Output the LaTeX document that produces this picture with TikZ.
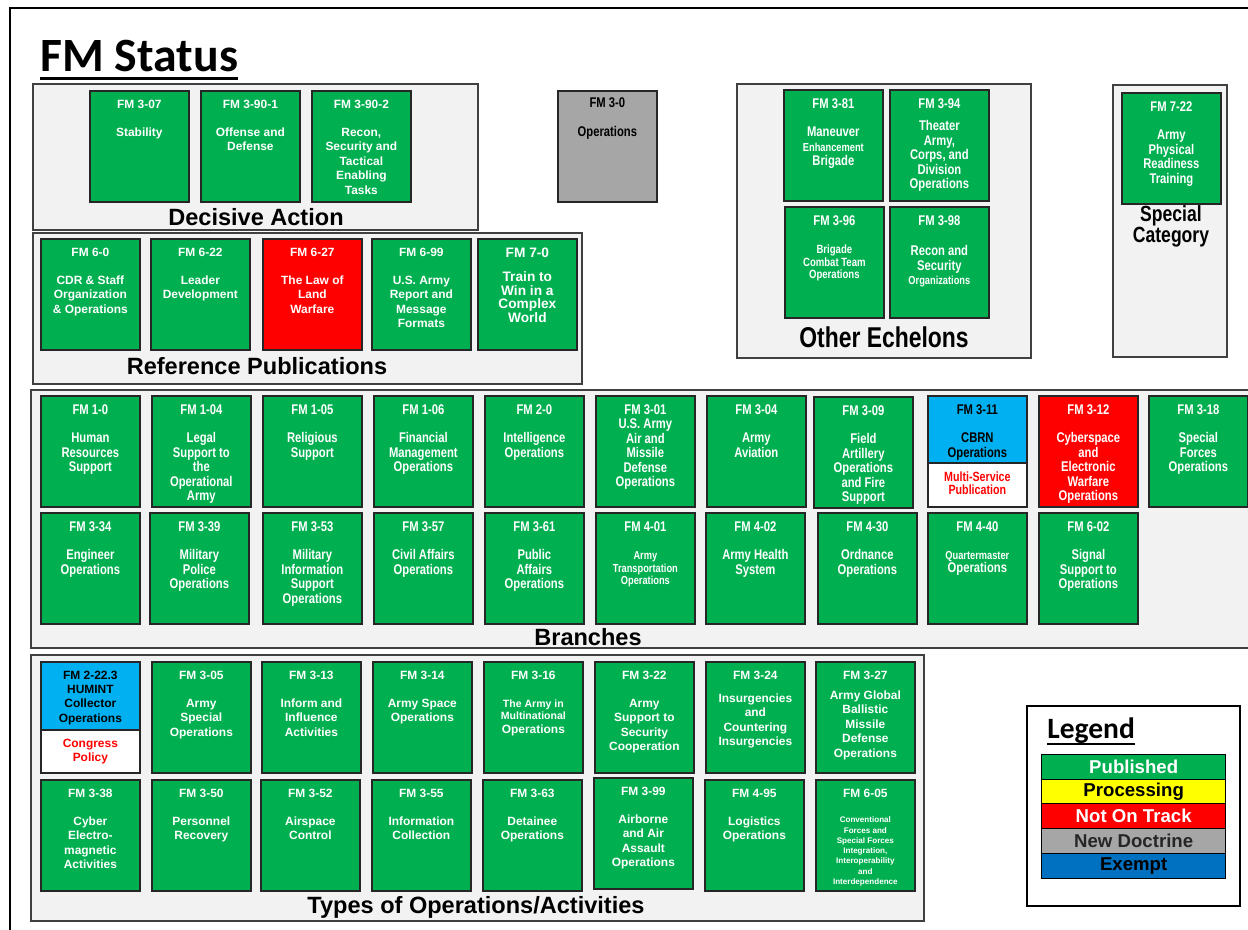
\documentclass[tikz,border=0pt]{standalone}
\usepackage{fontspec}
\setmainfont{Liberation Sans}
\newfontfamily\narrowfont[FakeStretch=0.8]{Liberation Sans}
\newfontfamily\calibrifont{Carlito}
\usepackage{xcolor}
\definecolor{fmgreen}{HTML}{00B050}
\definecolor{fmred}{HTML}{FF0000}
\definecolor{fmblue}{HTML}{00B0F0}
\definecolor{fmexempt}{HTML}{0070C0}
\definecolor{fmnew}{HTML}{A6A6A6}
\definecolor{fmyellow}{HTML}{FFFF00}
\definecolor{fmpanel}{HTML}{F2F2F2}
\newcommand{\fmsmall}[3]{{\fontsize{#1}{#2}\selectfont\begin{tabular}[t]{@{}c@{}}#3\end{tabular}}}

\begin{document}
\begin{tikzpicture}[x=0.02cm,y=-0.02cm,
    panel/.style={draw=black!75,line width=0.9pt,fill=fmpanel},
    fmbox/.style={draw=black!85,line width=1pt,anchor=north west,minimum width=1.98cm,minimum height=2.22cm,inner sep=0pt},
    fmtext/.style={anchor=north,yshift=-5.3pt,align=center,inner sep=0pt,text=white,font=\fontsize{6.8}{8.2}\selectfont\bfseries},
    fmnarrow/.style={font=\narrowfont\fontsize{8}{8.2}\selectfont\bfseries},
    paneltitle/.style={inner sep=0pt,font=\fontsize{13.4}{15}\selectfont\bfseries},
    legendbar/.style={draw=black,line width=0.8pt,anchor=north west,minimum width=3.68cm,minimum height=0.49cm,inner sep=0pt,font=\fontsize{10.6}{12}\selectfont\bfseries}]
    \useasboundingbox (0,0) rectangle (1248,930);
    \draw[line width=1.2pt] (10,8) rectangle (1300,980);

    % title
    \node[anchor=base west,inner sep=0pt,font=\calibrifont\fontsize{27.2}{30}\selectfont\bfseries] (title) at (40,71) {FM Status};
    \draw[line width=1.7pt] ([yshift=-4pt]title.base west) -- ([yshift=-4pt]title.base east);

    % panels
    \draw[panel] (33,84) rectangle (478,230);
    \draw[panel] (33,233) rectangle (582,384);
    \draw[panel] (737,84) rectangle (1031,358);
    \draw[panel] (1113,85) rectangle (1227,357);
    \draw[panel] (31,390) rectangle (1300,648);
    \draw[panel] (31,655) rectangle (924,921);

    % decisive action
    \node[fmbox,fill=fmgreen,label={[fmtext]north:{FM 3-07\\[8pt]Stability}}] (fm307) at (89,90) {};
    \node[fmbox,fill=fmgreen,label={[fmtext]north:{FM 3-90-1\\[8pt]Offense and\\Defense}}] (fm3901) at (200,90) {};
    \node[fmbox,fill=fmgreen,label={[fmtext]north:{FM 3-90-2\\[8pt]Recon,\\Security and\\Tactical\\Enabling\\Tasks}}] (fm3902) at (311,90) {};
    \node[paneltitle] (decisive) at (256,217) {Decisive Action};

    % new doctrine
    \node[fmbox,fill=fmnew,label={[fmtext,fmnarrow,text=black,yshift=1pt]north:{FM 3-0\\[8pt]Operations}}] (fm30) at (557,90) {};

    % other echelons
    \node[fmbox,fill=fmgreen,label={[fmtext,fmnarrow]north:{FM 3-81\\[8pt]Maneuver\\{\fontsize{6.6}{7}\selectfont Enhancement}\\Brigade}}] (fm381) at (783,89) {};
    \node[fmbox,fill=fmgreen,label={[fmtext,fmnarrow]north:{FM 3-94\\[4.5pt]Theater\\Army,\\Corps, and\\Division\\Operations}}] (fm394) at (889,89) {};
    \node[fmbox,fill=fmgreen,label={[fmtext,fmnarrow]north:{FM 3-96\\[8pt]\fmsmall{6.8}{7.1}{Brigade\\Combat Team\\Operations}}}] (fm396) at (784,206) {};
    \node[fmbox,fill=fmgreen,label={[fmtext,fmnarrow]north:{FM 3-98\\[9pt]Recon and\\Security\\{\fontsize{6.6}{7}\selectfont Organizations}}}] (fm398) at (889,206) {};
    \node[paneltitle,font=\narrowfont\fontsize{16.3}{18}\selectfont\bfseries] (echelons) at (884,337) {Other Echelons};

    % special category
    \node[fmbox,fill=fmgreen,label={[fmtext,fmnarrow]north:{FM 7-22\\[8pt]Army\\Physical\\Readiness\\Training}}] (fm722) at (1121,92) {};
    \node[align=center,inner sep=0pt,font=\narrowfont\fontsize{12.5}{12}\selectfont\bfseries] (special) at (1171,226) {Special\\Category};

    % reference publications
    \node[fmbox,fill=fmgreen,label={[fmtext]north:{FM 6-0\\[8pt]CDR \& Staff\\Organization\\\& Operations}}] (fm60) at (40,238) {};
    \node[fmbox,fill=fmgreen,label={[fmtext]north:{FM 6-22\\[8pt]Leader\\Development}}] (fm622) at (150,238) {};
    \node[fmbox,fill=fmred,label={[fmtext]north:{FM 6-27\\[8pt]The Law of\\Land\\Warfare}}] (fm627) at (262,238) {};
    \node[fmbox,fill=fmgreen,label={[fmtext]north:{FM 6-99\\[8pt]U.S. Army\\Report and\\Message\\Formats}}] (fm699) at (371,238) {};
    \node[fmbox,fill=fmgreen,label={[fmtext,font=\fontsize{7.8}{7.8}\selectfont\bfseries]north:{FM 7-0\\[6pt]Train to\\Win in a\\Complex\\World}}] (fm70) at (477,238) {};
    \node[paneltitle] (refpubs) at (257,366) {Reference Publications};

    % branches, first row
    \node[fmbox,fill=fmgreen,label={[fmtext,fmnarrow]north:{FM 1-0\\[8pt]Human\\Resources\\Support}}] (fm10) at (40,395) {};
    \node[fmbox,fill=fmgreen,label={[fmtext,fmnarrow]north:{FM 1-04\\[8pt]Legal\\Support to\\the\\Operational\\Army}}] (fm104) at (151,395) {};
    \node[fmbox,fill=fmgreen,label={[fmtext,fmnarrow]north:{FM 1-05\\[8pt]Religious\\Support}}] (fm105) at (262,395) {};
    \node[fmbox,fill=fmgreen,label={[fmtext,fmnarrow]north:{FM 1-06\\[8pt]Financial\\Management\\Operations}}] (fm106) at (373,395) {};
    \node[fmbox,fill=fmgreen,label={[fmtext,fmnarrow]north:{FM 2-0\\[8pt]Intelligence\\Operations}}] (fm20) at (484,395) {};
    \node[fmbox,fill=fmgreen,label={[fmtext,fmnarrow]north:{FM 3-01\\U.S. Army\\Air and\\Missile\\Defense\\Operations}}] (fm301) at (595,395) {};
    \node[fmbox,fill=fmgreen,label={[fmtext,fmnarrow]north:{FM 3-04\\[8pt]Army\\Aviation}}] (fm304) at (706,395) {};
    \node[fmbox,fill=fmgreen,label={[fmtext,fmnarrow]north:{FM 3-09\\[8pt]Field\\Artillery\\Operations\\and Fire\\Support}}] (fm309) at (813,396) {};
    \node[fmbox,fill=fmblue,minimum height=1.34cm,label={[fmtext,fmnarrow,text=black]north:{FM 3-11\\[8pt]CBRN\\Operations}}] (fm311) at (927,395) {};
    \node[fmbox,fill=white,minimum height=0.88cm,text=fmred,align=center,font=\narrowfont\fontsize{7.6}{7.4}\selectfont\bfseries] (fm311note) at (927,462) {\raisebox{1.5pt}{Multi-Service}\\\raisebox{1.5pt}{Publication}};
    \node[fmbox,fill=fmred,label={[fmtext,fmnarrow]north:{FM 3-12\\[8pt]Cyberspace\\and\\Electronic\\Warfare\\Operations}}] (fm312) at (1038,395) {};
    \node[fmbox,fill=fmgreen,label={[fmtext,fmnarrow]north:{FM 3-18\\[8pt]Special\\Forces\\Operations}}] (fm318) at (1148,395) {};

    % branches, second row
    \node[fmbox,fill=fmgreen,label={[fmtext,fmnarrow]north:{FM 3-34\\[8pt]Engineer\\Operations}}] (fm334) at (40,512) {};
    \node[fmbox,fill=fmgreen,label={[fmtext,fmnarrow]north:{FM 3-39\\[8pt]Military\\Police\\Operations}}] (fm339) at (149,512) {};
    \node[fmbox,fill=fmgreen,label={[fmtext,fmnarrow]north:{FM 3-53\\[8pt]Military\\Information\\Support\\Operations}}] (fm353) at (262,512) {};
    \node[fmbox,fill=fmgreen,label={[fmtext,fmnarrow]north:{FM 3-57\\[8pt]Civil Affairs\\Operations}}] (fm357) at (373,512) {};
    \node[fmbox,fill=fmgreen,label={[fmtext,fmnarrow]north:{FM 3-61\\[8pt]Public\\Affairs\\Operations}}] (fm361) at (484,512) {};
    \node[fmbox,fill=fmgreen,label={[fmtext,fmnarrow]north:{FM 4-01\\[8pt]\fmsmall{6.6}{7.1}{Army\\Transportation\\Operations}}}] (fm401) at (595,512) {};
    \node[fmbox,fill=fmgreen,label={[fmtext,fmnarrow]north:{FM 4-02\\[8pt]Army Health\\System}}] (fm402) at (705,512) {};
    \node[fmbox,fill=fmgreen,label={[fmtext,fmnarrow]north:{FM 4-30\\[8pt]Ordnance\\Operations}}] (fm430) at (817,512) {};
    \node[fmbox,fill=fmgreen,label={[fmtext,fmnarrow]north:{FM 4-40\\[8pt]{\fontsize{6.6}{7}\selectfont Quartermaster}\\[-1pt]Operations}}] (fm440) at (927,512) {};
    \node[fmbox,fill=fmgreen,label={[fmtext,fmnarrow]north:{FM 6-02\\[8pt]Signal\\Support to\\Operations}}] (fm602) at (1038,512) {};
    \node[paneltitle] (branches) at (588,637) {Branches};

    % types of operations, first row
    \node[fmbox,fill=fmblue,minimum height=1.36cm,label={[fmtext,text=black]north:{FM 2-22.3\\HUMINT\\Collector\\Operations}}] (fm2223) at (40,661) {};
    \node[fmbox,fill=white,minimum height=0.86cm,text=fmred,align=center,font=\fontsize{6.8}{8.2}\selectfont\bfseries] (fm2223note) at (40,729) {Congress\\Policy};
    \node[fmbox,fill=fmgreen,label={[fmtext]north:{FM 3-05\\[8pt]Army\\Special\\Operations}}] (fm305) at (151,661) {};
    \node[fmbox,fill=fmgreen,label={[fmtext]north:{FM 3-13\\[8pt]Inform and\\Influence\\Activities}}] (fm313) at (261,661) {};
    \node[fmbox,fill=fmgreen,label={[fmtext]north:{FM 3-14\\[8pt]Army Space\\Operations}}] (fm314) at (372,661) {};
    \node[fmbox,fill=fmgreen,label={[fmtext]north:{FM 3-16\\[8pt]{\fontsize{6}{7}\selectfont The Army in}\\[-1.4pt]{\fontsize{6}{7}\selectfont Multinational}\\Operations}}] (fm316) at (483,661) {};
    \node[fmbox,fill=fmgreen,label={[fmtext]north:{FM 3-22\\[8pt]Army\\Support to\\Security\\Cooperation}}] (fm322) at (594,661) {};
    \node[fmbox,fill=fmgreen,label={[fmtext]north:{FM 3-24\\[5pt]Insurgencies\\and\\Countering\\Insurgencies}}] (fm324) at (705,661) {};
    \node[fmbox,fill=fmgreen,label={[fmtext]north:{FM 3-27\\[3.5pt]Army Global\\Ballistic\\Missile\\Defense\\Operations}}] (fm327) at (815,661) {};

    % types of operations, second row
    \node[fmbox,fill=fmgreen,label={[fmtext]north:{FM 3-38\\[8pt]Cyber\\Electro-\\magnetic\\Activities}}] (fm338) at (40,779) {};
    \node[fmbox,fill=fmgreen,label={[fmtext]north:{FM 3-50\\[8pt]Personnel\\Recovery}}] (fm350) at (151,779) {};
    \node[fmbox,fill=fmgreen,label={[fmtext]north:{FM 3-52\\[8pt]Airspace\\Control}}] (fm352) at (260,779) {};
    \node[fmbox,fill=fmgreen,label={[fmtext]north:{FM 3-55\\[8pt]Information\\Collection}}] (fm355) at (371,779) {};
    \node[fmbox,fill=fmgreen,label={[fmtext]north:{FM 3-63\\[8pt]Detainee\\Operations}}] (fm363) at (482,779) {};
    \node[fmbox,fill=fmgreen,label={[fmtext]north:{FM 3-99\\[8pt]Airborne\\and Air\\Assault\\Operations}}] (fm399) at (593,777) {};
    \node[fmbox,fill=fmgreen,label={[fmtext]north:{FM 4-95\\[8pt]Logistics\\Operations}}] (fm495) at (704,779) {};
    \node[fmbox,fill=fmgreen,label={[fmtext]north:{FM 6-05\\[6.5pt]\fmsmall{4.6}{5.85}{Conventional\\Forces and\\Special Forces\\Integration,\\Interoperability\\and\\Interdependence}}}] (fm605) at (815,779) {};
    \node[paneltitle] (typesops) at (476,907) {Types of Operations/Activities};

    % legend
    \draw[line width=1.2pt,fill=white] (1027,706) rectangle (1240,906);
    \node[anchor=base west,inner sep=0pt,font=\calibrifont\fontsize{16.8}{18}\selectfont\bfseries] (legendtitle) at (1047,738) {Legend};
    \draw[line width=1.2pt] ([yshift=-3.2pt]legendtitle.base west) -- ([yshift=-3.2pt]legendtitle.base east);
    \node[legendbar,fill=fmgreen,text=white] (published) at (1041,754) {Published};
    \node[legendbar,fill=fmyellow] (processing) at (1041,779) {Processing};
    \node[legendbar,fill=fmred,text=white] (notontrack) at (1041,803) {Not On Track};
    \node[legendbar,fill=fmnew,text=black!85] (newdoctrine) at (1041,828) {New Doctrine};
    \node[legendbar,fill=fmexempt] (exempt) at (1041,853) {Exempt};
\end{tikzpicture}
\end{document}
